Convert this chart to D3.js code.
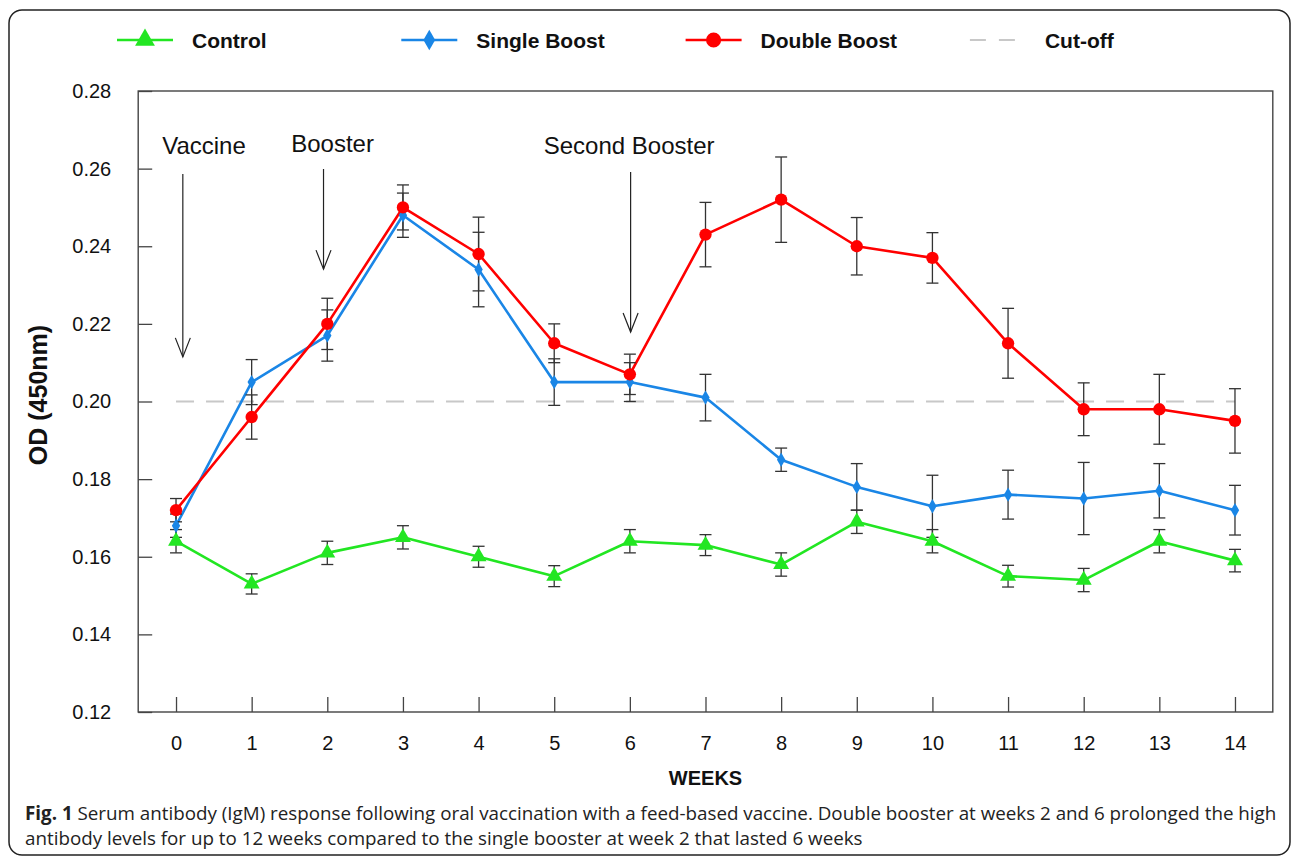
<!DOCTYPE html>
<html>
<head>
<meta charset="utf-8">
<script src="https://cdn.jsdelivr.net/npm/d3@7"></script>
<style>
  html, body { margin: 0; padding: 0; background: #ffffff; }
  svg { display: block; }
  .tick text { font-family: "Liberation Sans", Arial, sans-serif; fill: #111; }
</style>
</head>
<body>
<svg id="chart" width="1292" height="858"></svg>
<script>
// Weeks after the first oral dose
const weeks = [0, 1, 2, 3, 4, 5, 6, 7, 8, 9, 10, 11, 12, 13, 14];

// Mean OD (450nm) and standard error per group
const controlMean = [0.164, 0.153, 0.161, 0.165, 0.160, 0.155, 0.164, 0.163, 0.158, 0.169, 0.164, 0.155, 0.154, 0.164, 0.159];
const controlErr  = [0.003, 0.0026, 0.003, 0.003, 0.0027, 0.0027, 0.003, 0.0027, 0.003, 0.003, 0.003, 0.0028, 0.003, 0.003, 0.0029];

const singleMean  = [0.168, 0.205, 0.217, 0.248, 0.234, 0.205, 0.205, 0.201, 0.185, 0.178, 0.173, 0.176, 0.175, 0.177, 0.172];
const singleErr   = [0.003, 0.0058, 0.0066, 0.0057, 0.0096, 0.006, 0.005, 0.006, 0.003, 0.006, 0.008, 0.0063, 0.0093, 0.007, 0.0064];

const doubleMean  = [0.172, 0.196, 0.220, 0.250, 0.238, 0.215, 0.207, 0.243, 0.252, 0.240, 0.237, 0.215, 0.198, 0.198, 0.195];
const doubleErr   = [0.003, 0.0057, 0.0066, 0.0058, 0.0095, 0.005, 0.0052, 0.0083, 0.011, 0.0074, 0.0065, 0.009, 0.0068, 0.009, 0.0083];

const cutoff = 0.20;

const yTicks = [0.12, 0.14, 0.16, 0.18, 0.20, 0.22, 0.24, 0.26, 0.28];

const seriesNames = ["Control", "Single Boost", "Double Boost", "Cut-off"];

// Dosing events: label, arrow week, arrow top/tip and label position in data units
const events = [
  { label: "Vaccine",        week: 0.09, top: 0.2586, tip: 0.2115, textWeek: 0.37, textY: 0.2638 },
  { label: "Booster",        week: 1.95, top: 0.2599, tip: 0.2341, textWeek: 2.07, textY: 0.2643 },
  { label: "Second Booster", week: 6.01, top: 0.2591, tip: 0.2179, textWeek: 5.99, textY: 0.2638 }
];

const captionBold = "Fig. 1";
const captionLine1 = " Serum antibody (IgM) response following oral vaccination with a feed-based vaccine. Double booster at weeks 2 and 6 prolonged the high";
const captionLine2 = "antibody levels for up to 12 weeks compared to the single booster at week 2 that lasted 6 weeks";

// ---------------------------------------------------------------
const svg = d3.select("#chart");
const FONT = '"Liberation Sans", Arial, Helvetica, sans-serif';

const x = d3.scaleLinear().domain([-0.5, 14.5]).range([138.2, 1272.8]);
const y = d3.scaleLinear().domain([0.12, 0.28]).range([712, 91]);

const colors = { control: "#22e622", single: "#1a86e6", double: "#ff0000", cut: "#c8c8c8", bar: "#333333" };

// outer rounded frame around figure + caption
svg.append("rect")
  .attr("x", 9).attr("y", 10).attr("width", 1281).attr("height", 845)
  .attr("rx", 13).attr("ry", 13)
  .attr("fill", "none").attr("stroke", "#222").attr("stroke-width", 1.5);

// plot frame
svg.append("rect")
  .attr("x", x(-0.5)).attr("y", y(0.28))
  .attr("width", x(14.5) - x(-0.5)).attr("height", y(0.12) - y(0.28))
  .attr("fill", "none").attr("stroke", "#444").attr("stroke-width", 1.4);

// axes with inward ticks
const yAxis = d3.axisLeft(y).tickValues(yTicks).tickFormat(d3.format(".2f"))
  .tickSizeInner(-14).tickSizeOuter(0).tickPadding(27);
const gy = svg.append("g").attr("transform", `translate(${x(-0.5)},0)`).call(yAxis);
gy.select(".domain").remove();
gy.selectAll(".tick line").attr("stroke", "#444").attr("stroke-width", 1.3);
gy.selectAll(".tick text").attr("font-size", 20).attr("font-family", FONT).attr("fill", "#111");

const xAxis = d3.axisBottom(x).tickValues(weeks).tickFormat(d3.format("d"))
  .tickSizeInner(-15).tickSizeOuter(0).tickPadding(24);
const gx = svg.append("g").attr("transform", `translate(0,${y(0.12)})`).call(xAxis);
gx.select(".domain").remove();
gx.selectAll(".tick line").attr("stroke", "#444").attr("stroke-width", 1.3);
gx.selectAll(".tick text").attr("font-size", 20).attr("font-family", FONT).attr("fill", "#111");

// axis titles
svg.append("text")
  .attr("x", (x(-0.5) + x(14.5)) / 2).attr("y", 785)
  .attr("text-anchor", "middle").attr("font-family", FONT).attr("font-weight", "bold")
  .attr("font-size", 20).attr("fill", "#111").text("WEEKS");

svg.append("text")
  .attr("transform", "translate(47,395) rotate(-90)")
  .attr("text-anchor", "middle").attr("font-family", FONT).attr("font-weight", "bold")
  .attr("font-size", 25).attr("fill", "#111").text("OD (450nm)");

// cut-off line
svg.append("line")
  .attr("x1", x(weeks[0])).attr("x2", x(weeks[weeks.length - 1]))
  .attr("y1", y(cutoff)).attr("y2", y(cutoff))
  .attr("stroke", colors.cut).attr("stroke-width", 2).attr("stroke-dasharray", "18,12");

// dosing annotations
events.forEach(ev => {
  const ax = x(ev.week), yTop = y(ev.top), yTip = y(ev.tip);
  svg.append("line").attr("x1", ax).attr("x2", ax).attr("y1", yTop).attr("y2", yTip)
    .attr("stroke", "#222").attr("stroke-width", 1.2);
  svg.append("path")
    .attr("d", `M${ax - 7.5},${yTip - 19} L${ax},${yTip} L${ax + 7.5},${yTip - 19}`)
    .attr("fill", "none").attr("stroke", "#222").attr("stroke-width", 1.2);
  svg.append("text")
    .attr("x", x(ev.textWeek)).attr("y", y(ev.textY))
    .attr("text-anchor", "middle").attr("font-family", FONT)
    .attr("font-size", 24).attr("fill", "#111").attr("xml:space", "preserve")
    .text(ev.label);
});

// series
const groups = [
  { key: "control", mean: controlMean, err: controlErr, shape: d3.symbolTriangle, size: 110 },
  { key: "single",  mean: singleMean,  err: singleErr,  shape: d3.symbolDiamond,  size: 60 },
  { key: "double",  mean: doubleMean,  err: doubleErr,  shape: d3.symbolCircle,   size: 120 }
];

const line = d3.line().x(d => x(d.w)).y(d => y(d.v));

groups.forEach(g => {
  const pts = weeks.map((w, i) => ({ w, v: g.mean[i], e: g.err[i] }));
  svg.append("path").datum(pts).attr("d", line)
    .attr("fill", "none").attr("stroke", colors[g.key]).attr("stroke-width", 2.6)
    .attr("stroke-linejoin", "round");
});

// error bars on top of lines
groups.forEach(g => {
  const pts = weeks.map((w, i) => ({ w, v: g.mean[i], e: g.err[i] }));
  const eb = svg.append("g").attr("stroke", colors.bar).attr("stroke-width", 1.3);
  pts.forEach(p => {
    const cx = x(p.w), hi = y(p.v + p.e), lo = y(p.v - p.e);
    eb.append("line").attr("x1", cx).attr("x2", cx).attr("y1", hi).attr("y2", lo);
    eb.append("line").attr("x1", cx - 6).attr("x2", cx + 6).attr("y1", hi).attr("y2", hi);
    eb.append("line").attr("x1", cx - 6).attr("x2", cx + 6).attr("y1", lo).attr("y2", lo);
  });
});

groups.forEach(g => {
  const sym = d3.symbol().type(g.shape).size(g.size);
  svg.append("g").selectAll("path")
    .data(weeks.map((w, i) => ({ w, v: g.mean[i] })))
    .join("path")
    .attr("d", sym)
    .attr("transform", d => `translate(${x(d.w)},${y(d.v)})`)
    .attr("fill", colors[g.key]);
});

// legend
const legendKeys = ["control", "single", "double", "cut"];
const legendShapes = [d3.symbolTriangle, d3.symbolDiamond, d3.symbolCircle, null];
const legendSizes = [170, 120, 180, 0];
const legend = svg.append("g").attr("transform", "translate(117,40)");
seriesNames.forEach((name, i) => {
  const gI = legend.append("g").attr("transform", `translate(${i * 284.3},0)`);
  if (legendKeys[i] === "cut") {
    gI.append("line").attr("x1", 0).attr("x2", 46).attr("y1", 0).attr("y2", 0)
      .attr("stroke", colors.cut).attr("stroke-width", 2).attr("stroke-dasharray", "16,13");
  } else {
    gI.append("line").attr("x1", 0).attr("x2", 56).attr("y1", 0).attr("y2", 0)
      .attr("stroke", colors[legendKeys[i]]).attr("stroke-width", 2.6);
    gI.append("path").attr("d", d3.symbol().type(legendShapes[i]).size(legendSizes[i]))
      .attr("transform", "translate(28,0)").attr("fill", colors[legendKeys[i]]);
  }
  gI.append("text").attr("x", 75).attr("y", 7.5)
    .attr("font-family", FONT).attr("font-weight", "bold").attr("font-size", 21)
    .attr("fill", "#111").text(name);
});

// caption
const CAP = '"Open Sans", "Noto Sans", sans-serif';
const cap1 = svg.append("text").attr("x", 25).attr("y", 820)
  .attr("font-family", CAP).attr("font-size", 18.8).attr("fill", "#222");
cap1.append("tspan").attr("font-weight", "bold").text(captionBold);
cap1.append("tspan").attr("xml:space", "preserve").text(captionLine1);
svg.append("text").attr("x", 25).attr("y", 845)
  .attr("font-family", CAP).attr("font-size", 18.8).attr("fill", "#222")
  .text(captionLine2);
</script>
</body>
</html>
